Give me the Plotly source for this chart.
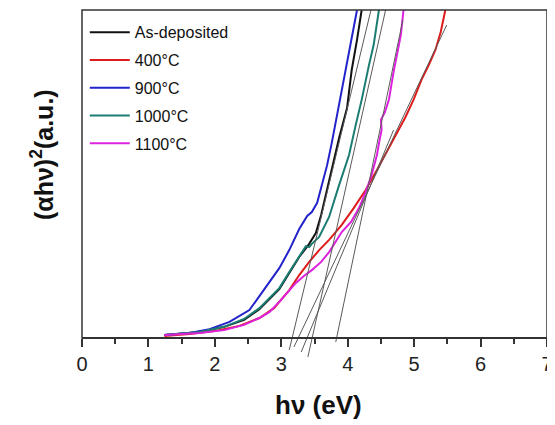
import plotly.graph_objects as go

# ---- data (photon energy in eV, (alpha h nu)^2 in arbitrary units 0-100) ----
series_names = ["As-deposited", "400°C", "900°C", "1000°C", "1100°C"]
series_colors = ["#111111", "#dd1c1c", "#2323cc", "#1b7d72", "#dd22dd"]

asdep_x = [1.24, 1.77, 2.14, 2.44, 2.67, 2.82, 2.97, 3.12, 3.27, 3.42, 3.52, 3.60, 3.72, 3.87, 3.99, 4.06, 4.14, 4.21]
asdep_y = [0.9, 1.8, 3.4, 5.5, 8.8, 11.9, 14.9, 19.8, 24.7, 28.7, 32.0, 37.5, 48.2, 61.0, 70.1, 81.7, 90.9, 100]

c400_x = [1.24, 1.62, 1.99, 2.37, 2.67, 2.89, 3.12, 3.27, 3.42, 3.57, 3.72, 3.91, 4.09, 4.27, 4.44, 4.62, 4.74, 4.87, 4.99, 5.11, 5.22, 5.32, 5.40, 5.47]
c400_y = [0.6, 1.2, 2.1, 3.7, 6.1, 9.1, 14.6, 19.2, 23.2, 26.8, 29.9, 34.5, 39.6, 45.1, 51.2, 57.9, 62.8, 67.4, 72.6, 78.7, 83.2, 87.8, 93.3, 100]

c900_x = [1.24, 1.62, 1.92, 2.22, 2.52, 2.67, 2.82, 2.97, 3.12, 3.27, 3.39, 3.46, 3.54, 3.61, 3.69, 3.76, 3.84, 3.91, 4.02, 4.14]
c900_y = [0.9, 1.5, 2.7, 4.9, 8.5, 12.8, 17.1, 21.3, 26.8, 33.2, 37.2, 38.4, 41.2, 46.6, 52.7, 59.5, 68.0, 76.2, 87.2, 100]

c1000_x = [1.24, 1.77, 2.14, 2.44, 2.67, 2.82, 2.97, 3.12, 3.27, 3.34, 3.37, 3.42, 3.46, 3.57, 3.72, 3.87, 4.02, 4.12, 4.21, 4.32, 4.39, 4.47]
c1000_y = [0.9, 1.8, 3.4, 5.8, 9.1, 12.2, 15.2, 20.1, 24.7, 26.8, 28.0, 27.7, 28.7, 30.8, 36.9, 46.6, 55.8, 64.9, 72.6, 83.2, 89.3, 100]

c1100_x = [1.24, 1.77, 2.14, 2.44, 2.67, 2.82, 2.97, 3.12, 3.22, 3.34, 3.46, 3.60, 3.72, 3.91, 4.05, 4.17, 4.27, 4.36, 4.44, 4.48, 4.51, 4.50, 4.56, 4.62, 4.69, 4.77, 4.80, 4.84]
c1100_y = [0.9, 1.5, 2.4, 4.0, 6.1, 7.9, 11.0, 14.6, 16.8, 18.9, 20.7, 23.2, 26.2, 32.3, 35.4, 39.6, 44.5, 49.7, 55.8, 60.4, 63.4, 66.5, 68.9, 72.6, 81.1, 89.3, 92.4, 100]

series_x = [asdep_x, c400_x, c900_x, c1000_x, c1100_x]
series_y = [asdep_y, c400_y, c900_y, c1000_y, c1100_y]

# linear-fit (Tauc) extrapolation lines: start / end points
tangent_x0 = [3.12, 3.19, 3.30, 3.40, 3.82]
tangent_y0 = [-3.66, -2.74, -4.27, -5.79, -1.22]
tangent_x1 = [4.35, 5.49, 4.69, 4.57, 4.83]
tangent_y1 = [100, 95.4, 63.4, 100, 97.0]

x_ticks = [0, 1, 2, 3, 4, 5, 6, 7]

FONT = "Liberation Sans, Arial, sans-serif"

fig = go.Figure()
for name, col, xs, ys in zip(series_names, series_colors, series_x, series_y):
    fig.add_trace(go.Scatter(x=xs, y=ys, mode="lines", name=name, legendgroup=name,
                             line=dict(color=col, width=2)))
for x0, y0, x1, y1 in zip(tangent_x0, tangent_y0, tangent_x1, tangent_y1):
    fig.add_trace(go.Scatter(x=[x0, x1], y=[y0, y1], mode="lines", showlegend=False,
                             hoverinfo="skip", line=dict(color="#5a5a5a", width=1)))

# plot area spans 350 px in height; value 0 sits 22 px above its bottom
y_low = -22 / 3.28
axis_pos = 22 / 350

fig.update_layout(
    width=547, height=417,
    margin=dict(l=74, r=6, t=2, b=65),
    paper_bgcolor="white", plot_bgcolor="white",
    font=dict(family=FONT, color="#111"),
    showlegend=True,
    legend=dict(x=0.006, y=0.985, xanchor="left", yanchor="top",
                font=dict(family=FONT, size=16, color="#111"),
                bgcolor="rgba(0,0,0,0)", tracegroupgap=4, itemwidth=40),
    xaxis=dict(range=[0, 7], tickvals=x_ticks, ticktext=[str(t) for t in x_ticks],
               showgrid=False, zeroline=False, anchor="free", position=axis_pos,
               showline=True, linecolor="#333", linewidth=1.5,
               ticks="outside", ticklen=8, tickwidth=1.5, tickcolor="#333",
               minor=dict(dtick=0.5, tick0=0, ticks="outside", ticklen=5, tickwidth=1.5,
                          tickcolor="#333", showgrid=False),
               tickfont=dict(family=FONT, size=20, color="#222"),
               ticklabelstandoff=0),
    yaxis=dict(range=[y_low, 100], showgrid=False, zeroline=False, showline=False,
               showticklabels=False, ticks=""),
    shapes=[dict(type="rect", xref="paper", yref="paper", x0=0, x1=1, y0=axis_pos, y1=1,
                 line=dict(color="#333", width=1.5), fillcolor="rgba(0,0,0,0)", layer="above")],
    annotations=[
        dict(text="<b>(αhν)<sup>2</sup>(a.u.)</b>", xref="paper", yref="paper",
             x=0, y=(352 - 147) / 350, xshift=-40, textangle=-90, showarrow=False,
             xanchor="center", yanchor="middle", font=dict(family=FONT, size=25, color="#111")),
        dict(text="<b>hν (eV)</b>", xref="paper", yref="paper",
             x=(312 - 74) / 467, y=(352 - 397) / 350, showarrow=False,
             xanchor="center", yanchor="middle", font=dict(family=FONT, size=26, color="#111")),
    ],
)

fig.write_html("out.html")
